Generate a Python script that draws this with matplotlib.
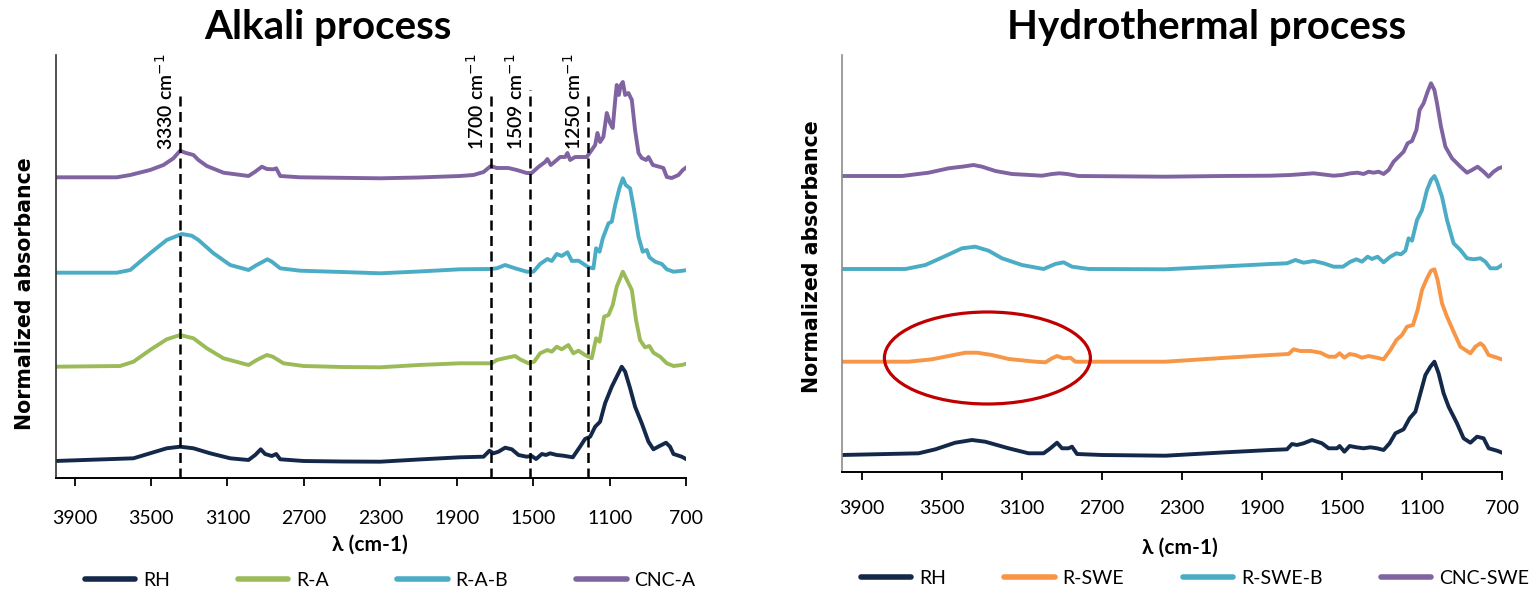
import matplotlib
matplotlib.use("Agg")
import matplotlib.pyplot as plt
from matplotlib.patches import Ellipse

plt.rcParams['mathtext.fontset'] = 'dejavusans'

# ---------------- DATA ----------------
# Alkali process panel (wavenumber cm-1, stacked normalized absorbance, arbitrary units)
alk_cnc_wn = [4002, 3679, 3609, 3505, 3435, 3383, 3348, 3322, 3278, 3252, 3208, 3121, 2990, 2955, 2920, 2894, 2859, 2845, 2824, 2720, 2301, 2100,
              1883, 1813, 1760, 1722, 1691, 1630, 1586, 1534, 1508, 1473, 1438, 1426, 1408, 1377, 1359, 1333, 1321, 1307, 1281, 1220, 1194, 1176,
              1164, 1150, 1133, 1115, 1098, 1084, 1071, 1063, 1052, 1042, 1031, 1019, 1002, 984, 967, 949, 932, 909, 897, 874, 836, 819, 801,
              775, 740, 717, 696]
alk_cnc_ab = [300.7, 300.7, 303, 308, 313, 319.7, 327.3, 325.3, 323, 318, 312, 305.3, 302, 306.3, 311.3, 309, 308.7, 309.7, 302, 300.7, 299.7, 300.5,
              302, 303, 306, 312, 310, 310, 308, 305, 305, 311, 316, 319, 313, 318, 321, 321, 325, 318, 321, 321, 328, 333,
              345, 336, 341, 365, 355, 350, 378, 393, 383, 393, 396, 383, 385, 378, 348, 325, 320, 318, 321, 313, 311, 310, 301,
              300, 303, 308, 311]

alk_rab_wn = [4002, 3679, 3609, 3505, 3418, 3339, 3287, 3252, 3173, 3086, 2990, 2947, 2891, 2868, 2824, 2720, 2500, 2301, 2100,
              1883, 1725, 1691, 1647, 1595, 1534, 1499, 1464, 1426, 1403, 1377, 1351, 1321, 1298, 1263, 1229, 1211, 1185, 1171, 1153,
              1136, 1106, 1089, 1071, 1049, 1031, 1016, 993, 972, 949, 927, 906, 892, 862, 827, 801, 766, 731, 691]
alk_rab_ab = [205.3, 205.3, 208, 224.7, 238, 244, 242.3, 238, 224.7, 213, 208, 213, 218.7, 216.3, 209.7, 207.3, 206, 204.7, 206.5,
              208.7, 209, 209.7, 213, 209.7, 206.3, 206.3, 214, 219, 217, 224, 222, 225.7, 217, 217.3, 213, 210.7, 209.7, 229.7, 226.3,
              239.7, 254.7, 256.3, 273, 289.7, 299.7, 293, 289.7, 268, 241.3, 226.3, 228, 220.7, 216.3, 214, 208.7, 206.3, 207, 208]

alk_ra_wn = [4002, 3662, 3592, 3505, 3418, 3348, 3278, 3208, 3121, 2990, 2947, 2894, 2863, 2807, 2702, 2500, 2301, 2100,
             1883, 1717, 1691, 1638, 1595, 1569, 1525, 1495, 1464, 1426, 1403, 1377, 1351, 1316, 1290, 1263, 1229, 1194, 1171, 1153,
             1129, 1106, 1084, 1063, 1045, 1031, 1014, 984, 962, 941, 915, 892, 871, 836, 801, 766, 723, 691]
alk_ra_ab = [111.3, 112, 116.3, 128, 138.7, 143, 139.7, 129.7, 119.7, 113, 118, 123, 121.3, 114.7, 112, 111, 110.7, 113,
             114.7, 114.7, 118, 120.3, 122, 118.7, 114.7, 116.3, 124.7, 128, 126.3, 131.3, 128.7, 133, 124.7, 127.3, 123, 119.7, 139.7, 136.3,
             161.3, 163, 173, 191.3, 199.7, 206.3, 199.7, 188, 158, 138, 130.7, 132, 125.3, 121.3, 114.7, 112, 113, 114.7]

alk_rh_wn = [4002, 3592, 3505, 3418, 3348, 3278, 3191, 3086, 2990, 2955, 2926, 2903, 2868, 2845, 2824, 2702, 2500, 2301, 2100,
             1883, 1760, 1729, 1708, 1682, 1647, 1612, 1577, 1534, 1508, 1485, 1455, 1433, 1412, 1377, 1342, 1293, 1255, 1229, 1202,
             1176, 1150, 1124, 1089, 1063, 1037, 1019, 993, 967, 932, 897, 871, 839, 805, 784, 766, 723, 691]
alk_rh_ab = [17, 19.7, 24.7, 29.7, 31.3, 29.7, 24.7, 19.7, 18, 23, 28.7, 24, 22, 24, 18.7, 17, 16.5, 16.3, 18.5,
             20.7, 21.3, 27.3, 24.7, 26.3, 30.3, 28.7, 23, 21.3, 22, 19, 24, 23, 24.7, 23, 22.3, 20.7, 31.3, 39, 41.3,
             51.3, 56.3, 74.7, 91.3, 101.3, 111.3, 106.3, 89.7, 71.3, 54.7, 36.3, 28.7, 32, 35.3, 31.3, 24, 21.3, 18]

# Hydrothermal process panel
hyd_cnc_wn = [4000, 3700, 3567, 3467, 3400, 3342, 3300, 3233, 3150, 3000, 2950, 2913, 2875, 2817, 2383, 2100,
              1858, 1758, 1642, 1542, 1500, 1458, 1422, 1392, 1367, 1342, 1317, 1292, 1267, 1242, 1217, 1192, 1172, 1150, 1128,
              1112, 1092, 1072, 1055, 1038, 1025, 1005, 983, 950, 908, 875, 850, 822, 792, 767, 742, 717, 692]
hyd_cnc_ab = [296, 296, 299.3, 303.7, 305.3, 307, 305.3, 301, 298, 296.3, 298, 298.7, 298, 296, 295.3, 296,
              296.3, 297, 298.7, 296.3, 297, 298.7, 299.3, 298, 300.3, 299.3, 300.3, 298, 302, 310.3, 315.3, 320.3, 328.7, 331, 342,
              362, 368.7, 380.3, 388.7, 382, 368.7, 345.3, 325.3, 313.7, 305.3, 299.3, 302, 305.3, 300.3, 295.3, 300.3, 303.7, 305.3]

hyd_rsweb_wn = [4000, 3683, 3583, 3483, 3400, 3334, 3267, 3200, 3100, 2992, 2934, 2892, 2850, 2767, 2383, 2100,
                1858, 1775, 1733, 1692, 1642, 1592, 1542, 1495, 1458, 1428, 1400, 1372, 1350, 1322, 1292, 1258, 1228, 1205, 1183,
                1167, 1150, 1125, 1100, 1075, 1055, 1038, 1025, 1000, 975, 942, 908, 875, 842, 808, 783, 758, 725, 692]
hyd_rsweb_ab = [203, 203, 207, 216, 223.7, 225.3, 221.3, 213.7, 207, 203, 208, 209.7, 205.3, 203, 202.7, 205.5,
                208, 208.7, 212, 209.3, 211, 208.7, 205.3, 205.3, 210.3, 212.7, 210.3, 215.3, 213, 215.3, 209.7, 215.3, 218.7, 217.7, 221.3,
                233.7, 231.3, 252, 262, 282, 292, 296, 290.3, 275.3, 252, 228.7, 222, 213.7, 212.7, 213.7, 210.3, 203.7, 203.7, 208]

hyd_rswe_wn = [4000, 3667, 3550, 3467, 3383, 3325, 3250, 3167, 3033, 2983, 2950, 2925, 2892, 2858, 2833, 2383, 2100,
               1858, 1767, 1742, 1708, 1658, 1608, 1567, 1533, 1512, 1488, 1462, 1433, 1400, 1367, 1325, 1292, 1258, 1228, 1200,
               1175, 1145, 1122, 1100, 1075, 1055, 1038, 1022, 1000, 975, 942, 908, 858, 833, 808, 792, 767, 725, 692]
hyd_rswe_ab = [110.3, 110.3, 112.7, 116, 119.3, 119.3, 117, 113, 110.3, 109.7, 113.7, 116, 113.7, 114.3, 110.3, 110.3, 114,
               117, 118, 122.7, 121, 121, 119.3, 115.3, 115.3, 118.7, 114.3, 118, 117, 114.3, 116, 114.3, 112.7, 122, 132, 137,
               145.3, 147, 162, 182, 193.7, 201.3, 202.7, 192, 168.7, 155.3, 140.3, 125.3, 118.7, 125.3, 128.7, 126, 117, 114.3, 112]

hyd_rh_wn = [4000, 3617, 3533, 3434, 3350, 3284, 3167, 3067, 2992, 2958, 2925, 2900, 2867, 2850, 2825, 2700, 2383, 2100,
             1858, 1775, 1750, 1725, 1692, 1650, 1600, 1567, 1525, 1512, 1488, 1462, 1428, 1392, 1358, 1325, 1292, 1262, 1233,
             1192, 1162, 1133, 1108, 1083, 1058, 1038, 1017, 992, 967, 925, 892, 858, 825, 792, 767, 725, 692]
hyd_rh_ab = [17, 18.7, 22.7, 29.3, 32, 30.3, 23.7, 18.7, 18.7, 23.7, 29.3, 23.7, 23.7, 25.3, 18, 17, 16.3, 19.5,
             22, 22.7, 28, 27, 28.7, 32, 28.7, 23.7, 23.7, 26, 20.3, 26, 24.7, 23.7, 24.7, 23.7, 22, 28.7, 38.7,
             42.7, 53.7, 60.3, 78.7, 97, 105.3, 110.3, 98.7, 78.7, 65.3, 48.7, 33.7, 29.3, 35.3, 33.7, 23.7, 21.3, 18.7]

ticks = [3900, 3500, 3100, 2700, 2300, 1900, 1500, 1100, 700]
marker_wn = [3348, 1722, 1516, 1214]
marker_labels = ["3330 cm$^{-1}$", "1700 cm$^{-1}$", "1509 cm$^{-1}$", "1250 cm$^{-1}$"]

alk_labels = ["RH", "R-A", "R-A-B", "CNC-A"]
hyd_labels = ["RH", "R-SWE", "R-SWE-B", "CNC-SWE"]

C_RH = "#14294A"
C_GREEN = "#9BBB59"
C_BLUE = "#4BACC6"
C_PURPLE = "#8064A2"
C_ORANGE = "#F79646"

# ---------------- FIGURE ----------------
W, H = 1536, 595
fig = plt.figure(figsize=(W / 100, H / 100), dpi=100)

def px_axes(x0, x1, ytop, ybot):
    return fig.add_axes([x0 / W, (H - ybot) / H, (x1 - x0) / W, (ybot - ytop) / H])

axL = px_axes(55.5, 686.1, 55, 478)
axR = px_axes(842, 1502, 55, 472)

LW = 2.8
kw = dict(lw=LW, solid_joinstyle="round", solid_capstyle="round")
axL.plot(alk_rh_wn, alk_rh_ab, color=C_RH, label=alk_labels[0], **kw)
axL.plot(alk_ra_wn, alk_ra_ab, color=C_GREEN, label=alk_labels[1], **kw)
axL.plot(alk_rab_wn, alk_rab_ab, color=C_BLUE, label=alk_labels[2], **kw)
axL.plot(alk_cnc_wn, alk_cnc_ab, color=C_PURPLE, label=alk_labels[3], **kw)

axR.plot(hyd_rh_wn, hyd_rh_ab, color=C_RH, label=hyd_labels[0], **kw)
axR.plot(hyd_rswe_wn, hyd_rswe_ab, color=C_ORANGE, label=hyd_labels[1], **kw)
axR.plot(hyd_rsweb_wn, hyd_rsweb_ab, color=C_BLUE, label=hyd_labels[2], **kw)
axR.plot(hyd_cnc_wn, hyd_cnc_ab, color=C_PURPLE, label=hyd_labels[3], **kw)

# dashed marker lines
tops = [383, 385, 388, 385]
for wn, top, lab in zip(marker_wn, tops, marker_labels):
    axL.vlines(wn, 0, top, colors="black", linestyles=(0, (4, 2.2)), lw=1.8, zorder=5)
    axL.annotate(lab, xy=(wn, 328), xytext=(-3, 0), textcoords="offset points",
                 rotation=90, ha="right", va="bottom", fontsize=14,
                 family=["Lato", "DejaVu Sans"], fontweight="semibold", color="black")

# ellipse highlight
axR.add_patch(Ellipse((3273, 114), 1030, 92, fill=False, edgecolor="#C00000", lw=2.3, zorder=6))

for ax, ylim, pad, spcol in [(axL, 423, 17, "#333333"), (axR, 417, 14, "#8c8c8c")]:
    ax.set_xlim(4000, 700)
    ax.set_ylim(0, ylim)
    ax.set_xticks(ticks)
    ax.set_xticklabels([str(t) for t in ticks], fontsize=14, family="Lato")
    ax.set_yticks([])
    ax.spines["top"].set_visible(False)
    ax.spines["right"].set_visible(False)
    ax.spines["left"].set_color(spcol)
    ax.spines["left"].set_linewidth(1.2)
    ax.spines["bottom"].set_color("black")
    ax.spines["bottom"].set_linewidth(1.4)
    ax.tick_params(axis="x", direction="out", length=6, width=1.3, pad=pad, colors="black")
    ax.patch.set_alpha(0)

# titles
fig.text(328 / W, 1 - 28 / H, "Alkali process", ha="center", va="center", fontsize=29,
         fontweight="bold", family="Lato")
fig.text(1207 / W, 1 - 28 / H, "Hydrothermal process", ha="center", va="center", fontsize=29,
         fontweight="bold", family="Lato")

# y labels
fig.text(25 / W, 1 - 294 / H, "Normalized absorbance", rotation=90, ha="center", va="center",
         fontsize=14.8, fontweight="bold", family="DejaVu Sans")
fig.text(812 / W, 1 - 257 / H, "Normalized absorbance", rotation=90, ha="center", va="center",
         fontsize=14.8, fontweight="bold", family="DejaVu Sans")

# x labels
fig.text(370 / W, 1 - 545 / H, "λ (cm-1)", ha="center", va="center", fontsize=15,
         fontweight="bold", family=["Lato", "DejaVu Sans"])
fig.text(1180 / W, 1 - 548 / H, "λ (cm-1)", ha="center", va="center", fontsize=15,
         fontweight="bold", family=["Lato", "DejaVu Sans"])

# legends
hL, lL = axL.get_legend_handles_labels()
legL = fig.legend(hL, lL, loc="center", bbox_to_anchor=(390 / W, 1 - 580 / H), ncol=4, frameon=False,
                  handlelength=2.6, handletextpad=0.4, columnspacing=3.5,
                  prop={"family": "Lato", "size": 14})
hR, lR = axR.get_legend_handles_labels()
legR = fig.legend(hR, lR, loc="center", bbox_to_anchor=(1195 / W, 1 - 578 / H), ncol=4, frameon=False,
                  handlelength=2.6, handletextpad=0.4, columnspacing=3.0,
                  prop={"family": "Lato", "size": 14})
for leg in (legL, legR):
    for ln in leg.get_lines():
        ln.set_linewidth(4)

fig.savefig("out.png", dpi=100)
